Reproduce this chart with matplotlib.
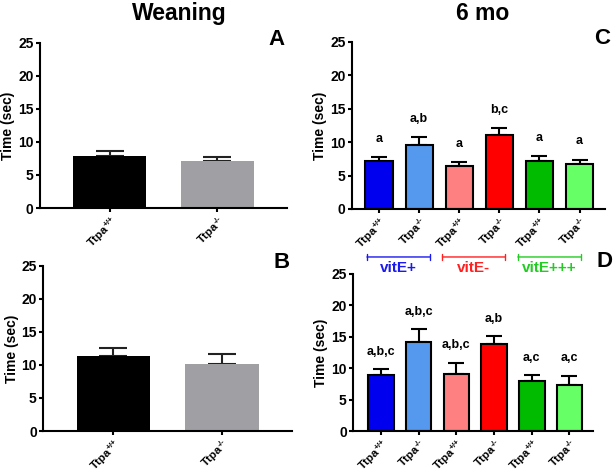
import matplotlib.pyplot as plt

plt.rcParams['font.family'] = ['Liberation Sans', 'DejaVu Sans']
plt.rcParams['font.weight'] = 'bold'
plt.rcParams['mathtext.fontset'] = 'custom'
plt.rcParams['mathtext.rm'] = 'Liberation Sans:bold'
plt.rcParams['mathtext.bf'] = 'Liberation Sans:bold'
plt.rcParams['mathtext.default'] = 'bf'

# data
wean_groups = ['Ttpa$^{\\text{+/+}}$', 'Ttpa$^{\\text{-/-}}$']
a_means = [7.9, 7.1]
a_err = [0.7, 0.6]
b_means = [11.3, 10.1]
b_err = [1.3, 1.5]

mo_groups = ['Ttpa$^{\\text{+/+}}$', 'Ttpa$^{\\text{-/-}}$'] * 3
c_means = [7.2, 9.5, 6.4, 11.0, 7.2, 6.7]
c_err = [0.6, 1.2, 0.6, 1.1, 0.7, 0.7]
c_letters = ['a', 'a,b', 'a', 'b,c', 'a', 'a']
d_means = [8.9, 14.1, 9.0, 13.8, 8.0, 7.4]
d_err = [0.9, 2.1, 1.9, 1.3, 0.9, 1.4]
d_letters = ['a,b,c', 'a,b,c', 'a,b,c', 'a,b', 'a,c', 'a,c']

diets = ['vitE+', 'vitE-', 'vitE+++']
diet_colors = ['#1a1aee', '#ff2020', '#22cc22']
wean_colors = ['#000000', '#a0a0a4']
mo_colors = ['#0000ee', '#5599ee', '#ff8080', '#ff0000', '#00bb00', '#66ff66']

fig = plt.figure(figsize=(6.15, 4.76), dpi=100)


def style_axes(ax, xlim, labels):
    ax.set_ylim(0, 25)
    ax.set_yticks([0, 5, 10, 15, 20, 25])
    ax.set_xlim(*xlim)
    ax.spines['top'].set_visible(False)
    ax.spines['right'].set_visible(False)
    ax.spines['left'].set_linewidth(1.5)
    ax.spines['bottom'].set_linewidth(1.5)
    ax.tick_params(width=1.5, length=3, pad=1.5)
    ax.tick_params(axis='y', labelsize=10)
    ax.tick_params(axis='x', pad=1)
    ax.set_xticks(range(len(labels)))
    ax.set_xticklabels(labels, rotation=45, ha='right', rotation_mode='anchor',
                       fontsize=8.2, fontweight='bold')
    for t in ax.get_yticklabels():
        t.set_fontweight('bold')
    ax.set_ylabel('Time (sec)', fontsize=10, fontweight='bold', labelpad=2)


def weaning_panel(rect, means, err, letter):
    ax = fig.add_axes(rect)
    x = range(len(means))
    ax.bar(x, means, width=0.68, color=wean_colors, zorder=2)
    ax.errorbar(x, means, yerr=[[0] * len(err), err], fmt='none',
                ecolor='#222222', elinewidth=1.5, capsize=10, capthick=1.5, zorder=1)
    style_axes(ax, (-0.65, 1.65), wean_groups)
    ax.text(0.99, 1.02, letter, transform=ax.transAxes, fontsize=16,
            fontweight='bold', ha='right', va='center')
    return ax


def mo_panel(rect, means, err, letters, xlim):
    ax = fig.add_axes(rect)
    x = range(len(means))
    ax.bar(x, means, width=0.68, color=mo_colors, edgecolor='black',
           linewidth=1.5, zorder=2)
    ax.errorbar(x, means, yerr=[[0] * len(err), err], fmt='none',
                ecolor='black', elinewidth=1.5, capsize=6, capthick=1.5, zorder=1)
    for i in x:
        ax.text(i, means[i] + err[i] + 1.8, letters[i], ha='center',
                va='bottom', fontsize=9, fontweight='bold')
    style_axes(ax, xlim, mo_groups)
    return ax


axA = weaning_panel([0.065, 0.563, 0.402, 0.347], a_means, a_err, 'A')
axB = weaning_panel([0.070, 0.0945, 0.405, 0.347], b_means, b_err, 'B')
axC = mo_panel([0.572, 0.561, 0.412, 0.351], c_means, c_err, c_letters,
               (-0.68, 5.64))
axD = mo_panel([0.574, 0.0945, 0.390, 0.330], d_means, d_err, d_letters,
               (-0.74, 5.62))
axC.text(1.018, 1.02, 'C', transform=axC.transAxes, fontsize=16,
         fontweight='bold', ha='right', va='center')
axD.text(1.05, 1.076, 'D', transform=axD.transAxes, fontsize=16,
         fontweight='bold', ha='center', va='center')

# diet brackets above panel D
for k, name in enumerate(diets):
    x0, x1 = 2 * k - 0.37, 2 * k + 1.3
    axD.annotate('', xy=(x0, 27.7), xytext=(x1, 27.7), xycoords='data',
                 arrowprops=dict(arrowstyle='|-|,widthA=0.22,widthB=0.22',
                                 color=diet_colors[k], lw=1.0,
                                 shrinkA=0, shrinkB=0),
                 annotation_clip=False)
    axD.text(2 * k + 0.46, 25.9, name, color=diet_colors[k], fontsize=11,
             fontweight='bold', ha='center', va='center', clip_on=False)

fig.text(0.291, 0.972, 'Weaning', fontsize=16.5, fontweight='bold', ha='center', va='center')
fig.text(0.785, 0.972, '6 mo', fontsize=16.5, fontweight='bold', ha='center', va='center')

fig.savefig('out.png', dpi=100)
